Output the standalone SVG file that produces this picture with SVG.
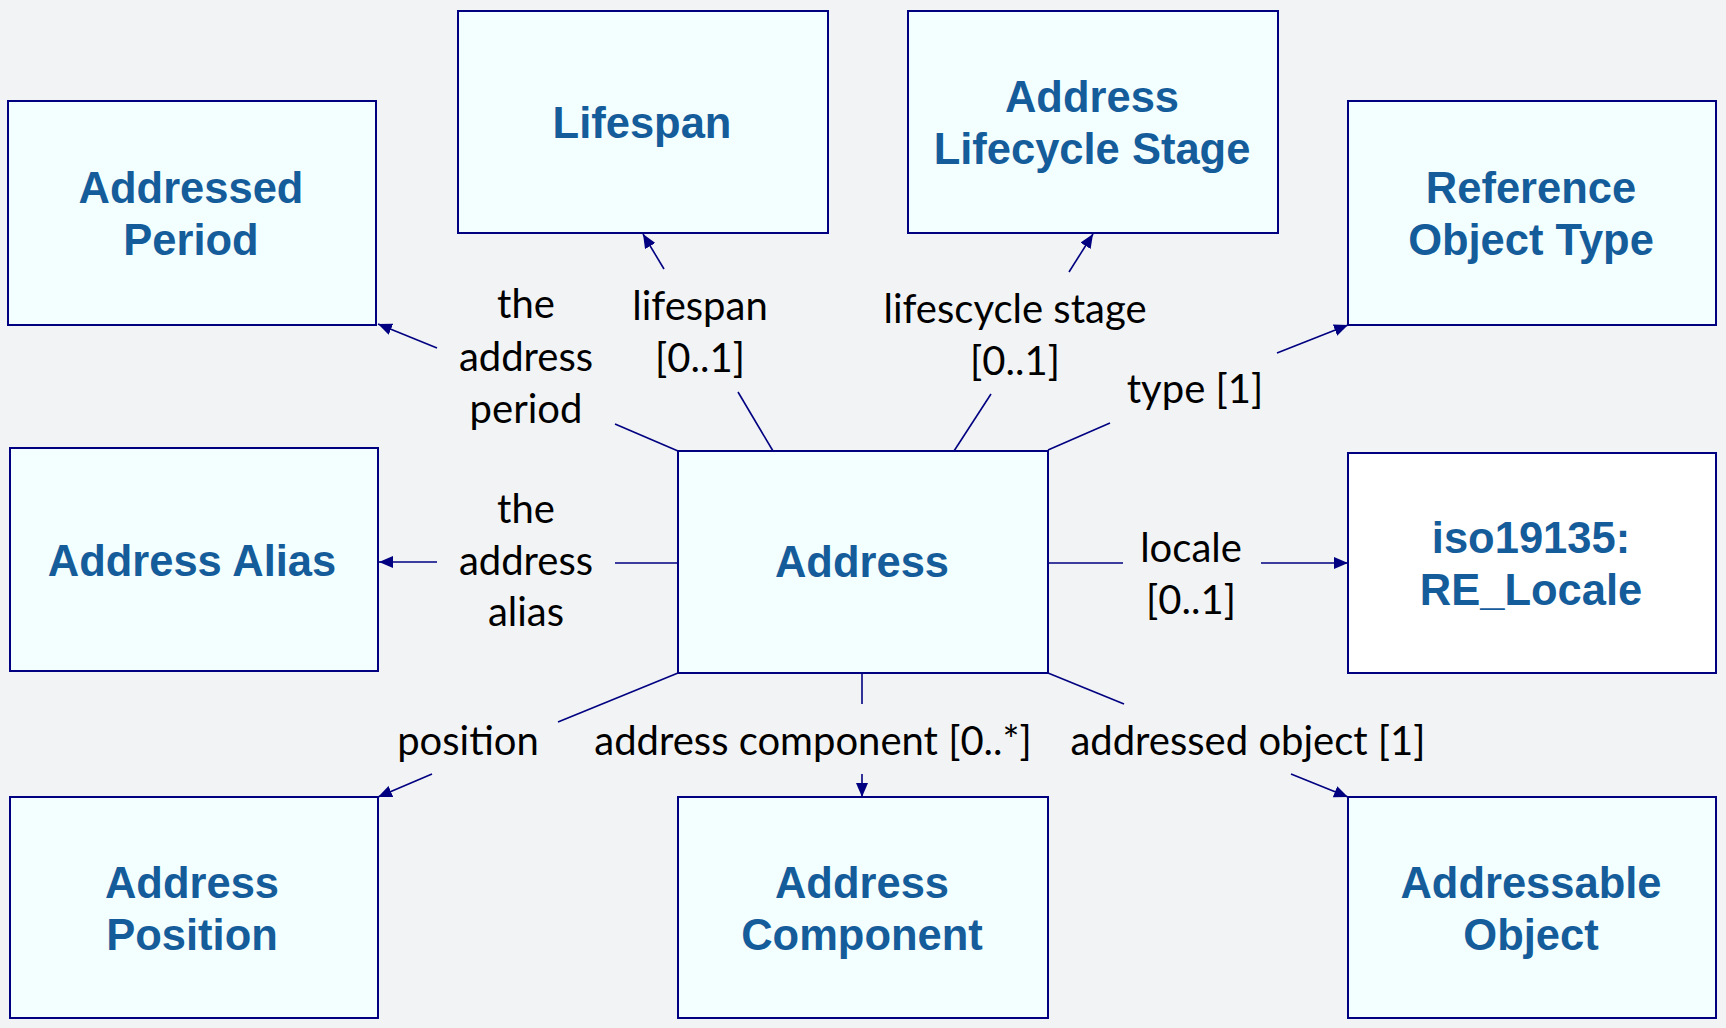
<svg xmlns="http://www.w3.org/2000/svg" width="1726" height="1028" viewBox="0 0 1726 1028">
<defs>
<marker id="arr" markerUnits="userSpaceOnUse" markerWidth="14" markerHeight="12" refX="14" refY="6" orient="auto">
<path d="M0,0 L14,6 L0,12 z" fill="#000080"/>
</marker>
<style>
.box{fill:#F3FFFF;stroke:#000080;stroke-width:2}
.white{fill:#FFFFFF}
.nt{font-family:"Liberation Sans",Arial,sans-serif;font-weight:bold;font-size:43.5px;fill:#155C9B;text-anchor:middle}
.lb{font-family:Lato,"Liberation Sans",sans-serif;font-size:40px;fill:#000000;text-anchor:middle}
.ln{fill:none;stroke:#000080;stroke-width:1.6}
</style>
</defs>
<rect x="0" y="0" width="1726" height="1028" fill="#F2F3F5"/>

<g id="node-addressed-period">
<rect class="box" x="8" y="101" width="368" height="224"/>
<text class="nt" x="191" y="203">Addressed</text>
<text class="nt" x="191" y="255">Period</text>
</g>
<g id="node-lifespan">
<rect class="box" x="458" y="11" width="370" height="222"/>
<text class="nt" x="642" y="138">Lifespan</text>
</g>
<g id="node-lifecycle-stage">
<rect class="box" x="908" y="11" width="370" height="222"/>
<text class="nt" x="1092" y="112">Address</text>
<text class="nt" x="1092" y="164">Lifecycle Stage</text>
</g>
<g id="node-reference-object-type">
<rect class="box" x="1348" y="101" width="368" height="224"/>
<text class="nt" x="1531" y="203">Reference</text>
<text class="nt" x="1531" y="255">Object Type</text>
</g>
<g id="node-address-alias">
<rect class="box" x="10" y="448" width="368" height="223"/>
<text class="nt" x="192" y="576">Address Alias</text>
</g>
<g id="node-address">
<rect class="box" x="678" y="451" width="370" height="222"/>
<text class="nt" x="862" y="577">Address</text>
</g>
<g id="node-re-locale">
<rect class="box white" x="1348" y="453" width="368" height="220"/>
<text class="nt" x="1531" y="553">iso19135:</text>
<text class="nt" x="1531" y="605">RE_Locale</text>
</g>
<g id="node-address-position">
<rect class="box" x="10" y="797" width="368" height="221"/>
<text class="nt" x="192" y="898">Address</text>
<text class="nt" x="192" y="950">Position</text>
</g>
<g id="node-address-component">
<rect class="box" x="678" y="797" width="370" height="221"/>
<text class="nt" x="862" y="898">Address</text>
<text class="nt" x="862" y="950">Component</text>
</g>
<g id="node-addressable-object">
<rect class="box" x="1348" y="797" width="368" height="221"/>
<text class="nt" x="1531" y="898">Addressable</text>
<text class="nt" x="1531" y="950">Object</text>
</g>

<g id="connectors">
<line class="ln" x1="678" y1="451" x2="615" y2="424"/>
<line class="ln" x1="437" y1="348" x2="378" y2="324" marker-end="url(#arr)"/>

<line class="ln" x1="773" y1="451" x2="738" y2="392"/>
<line class="ln" x1="664" y1="269" x2="643" y2="234" marker-end="url(#arr)"/>

<line class="ln" x1="954" y1="451" x2="991" y2="394"/>
<line class="ln" x1="1069" y1="272" x2="1093" y2="234" marker-end="url(#arr)"/>

<line class="ln" x1="1048" y1="450" x2="1110" y2="423"/>
<line class="ln" x1="1277" y1="353" x2="1348" y2="325" marker-end="url(#arr)"/>

<line class="ln" x1="678" y1="563" x2="615" y2="563"/>
<line class="ln" x1="437" y1="562" x2="379" y2="562" marker-end="url(#arr)"/>

<line class="ln" x1="1048" y1="563" x2="1123" y2="563"/>
<line class="ln" x1="1261" y1="563" x2="1348" y2="563" marker-end="url(#arr)"/>

<line class="ln" x1="678" y1="673" x2="558" y2="722"/>
<line class="ln" x1="432" y1="774" x2="378" y2="797" marker-end="url(#arr)"/>

<line class="ln" x1="862" y1="673" x2="862" y2="704"/>
<line class="ln" x1="862" y1="774" x2="862" y2="797" marker-end="url(#arr)"/>

<line class="ln" x1="1048" y1="673" x2="1124" y2="704"/>
<line class="ln" x1="1291" y1="774" x2="1348" y2="797" marker-end="url(#arr)"/>

<g id="connector-labels">
<text class="lb" x="526" y="318">the</text>
<text class="lb" x="526" y="371">address</text>
<text class="lb" x="526" y="423">period</text>
<text class="lb" x="700" y="320">lifespan</text>
<text class="lb" x="700" y="372">[0..1]</text>
<text class="lb" x="1015" y="323">lifescycle stage</text>
<text class="lb" x="1015" y="375">[0..1]</text>
<text class="lb" x="1195" y="403">type [1]</text>
<text class="lb" x="526" y="523">the</text>
<text class="lb" x="526" y="575">address</text>
<text class="lb" x="526" y="626">alias</text>
<text class="lb" x="1191" y="562">locale</text>
<text class="lb" x="1191" y="614">[0..1]</text>
<text class="lb" x="468" y="755">position</text>
<text class="lb" x="813" y="755">address component [0..*]</text>
<text class="lb" x="1248" y="755">addressed object [1]</text>
</g>
</g>
</svg>
